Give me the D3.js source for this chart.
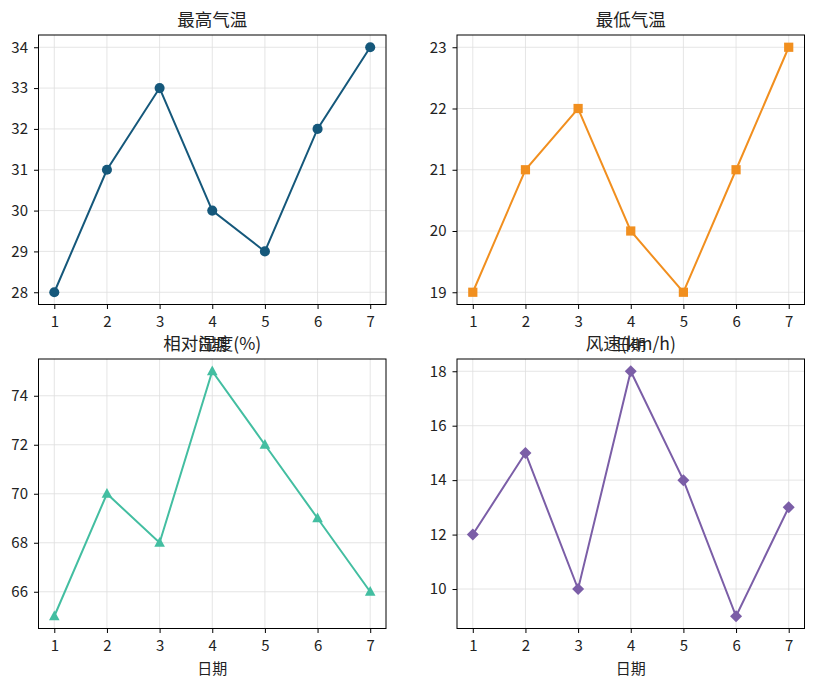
<!DOCTYPE html>
<meta charset="utf-8">

<head>
  <title>Weather panels</title>
</head>

<style>
  body { margin: 0; background: #fff; }
  svg, svg text { font-family: "Noto Sans CJK SC", "Noto Sans", sans-serif; }
  .tick text { font-size: 15px; fill: #222; }
  .tick line { stroke: #000; }
  .domain { stroke: none; }
</style>

<body>
  <svg width="815" height="687"></svg>

  <script src="https://cdn.jsdelivr.net/npm/d3@7"></script>
  <script>
    var days = [1, 2, 3, 4, 5, 6, 7];
    var maxTemp = [28, 31, 33, 30, 29, 32, 34];
    var minTemp = [19, 21, 22, 20, 19, 21, 23];
    var humidity = [65, 70, 68, 75, 72, 69, 66];
    var wind = [12, 15, 10, 18, 14, 9, 13];
    var titles = ['最高气温', '最低气温', '相对湿度(%)', '风速(km/h)'];
    var xLabel = '日期';

    var panels = [
      { title: titles[0], values: maxTemp, color: '#15587b', marker: 'circle', yTicks: [28, 29, 30, 31, 32, 33, 34] },
      { title: titles[1], values: minTemp, color: '#f18f1f', marker: 'square', yTicks: [19, 20, 21, 22, 23] },
      { title: titles[2], values: humidity, color: '#43bea1', marker: 'triangle', yTicks: [66, 68, 70, 72, 74] },
      { title: titles[3], values: wind, color: '#7b5ea7', marker: 'diamond', yTicks: [10, 12, 14, 16, 18] }
    ];

    var cols = [38.5, 457];
    var rows = [35, 359];
    var w = 347.5, h = 269.5;

    var svg = d3.select('svg');

    // matplotlib-like marker shapes
    var markerPath = {
      circle: d3.symbol().type(d3.symbolCircle).size(80)(),
      square: d3.symbol().type(d3.symbolSquare).size(85)(),
      triangle: 'M0,-5.8L5.3,4L-5.3,4Z',
      diamond: 'M0,-6L6,0L0,6L-6,0Z'
    };

    panels.forEach(function (p, i) {
      var g = svg.append('g')
        .attr('transform', 'translate(' + cols[i % 2] + ',' + rows[Math.floor(i / 2)] + ')');

      var xPad = (d3.max(days) - d3.min(days)) * 0.05;
      var x = d3.scaleLinear()
        .domain([d3.min(days) - xPad, d3.max(days) + xPad])
        .range([0, w]);
      var ext = d3.extent(p.values);
      var yPad = (ext[1] - ext[0]) * 0.05;
      var y = d3.scaleLinear()
        .domain([ext[0] - yPad, ext[1] + yPad])
        .range([h, 0]);

      // grid
      g.append('g').selectAll('line').data(days).enter().append('line')
        .attr('x1', d => x(d)).attr('x2', d => x(d))
        .attr('y1', 0).attr('y2', h)
        .attr('stroke', '#dedede').attr('stroke-width', 0.8);
      g.append('g').selectAll('line').data(p.yTicks).enter().append('line')
        .attr('y1', d => y(d)).attr('y2', d => y(d))
        .attr('x1', 0).attr('x2', w)
        .attr('stroke', '#dedede').attr('stroke-width', 0.8);

      g.append('g')
        .attr('transform', 'translate(0,' + h + ')')
        .call(d3.axisBottom(x).tickValues(days).tickSize(4.5).tickPadding(7).tickFormat(d3.format('d')))
        .attr('font-family', null).attr('font-size', null);
      g.append('g')
        .call(d3.axisLeft(y).tickValues(p.yTicks).tickSize(4.5).tickPadding(6).tickFormat(d3.format('d')))
        .attr('font-family', null).attr('font-size', null);

      var line = d3.line()
        .x((d, j) => x(days[j]))
        .y(d => y(d));

      g.append('path')
        .datum(p.values)
        .attr('d', line)
        .attr('fill', 'none')
        .attr('stroke', p.color)
        .attr('stroke-width', 2);

      g.append('g').selectAll('path')
        .data(p.values)
        .enter()
        .append('path')
        .attr('d', markerPath[p.marker])
        .attr('transform', (d, j) => 'translate(' + x(days[j]) + ',' + y(d) + ')')
        .attr('fill', p.color);

      // frame
      g.append('rect')
        .attr('width', w).attr('height', h)
        .attr('fill', 'none')
        .attr('stroke', '#000')
        .attr('stroke-width', 1);

      // x label under every panel (top ones sit behind the lower titles, as in the original)
      g.append('text')
        .attr('x', w / 2).attr('y', h + 45)
        .attr('text-anchor', 'middle')
        .attr('font-size', 15)
        .attr('fill', '#222')
        .text(xLabel);

      g.append('text')
        .attr('x', w / 2).attr('y', -9)
        .attr('text-anchor', 'middle')
        .attr('font-size', 17.5)
        .attr('fill', '#222')
        .text(p.title);
    });
  </script>
</body>

</html>
